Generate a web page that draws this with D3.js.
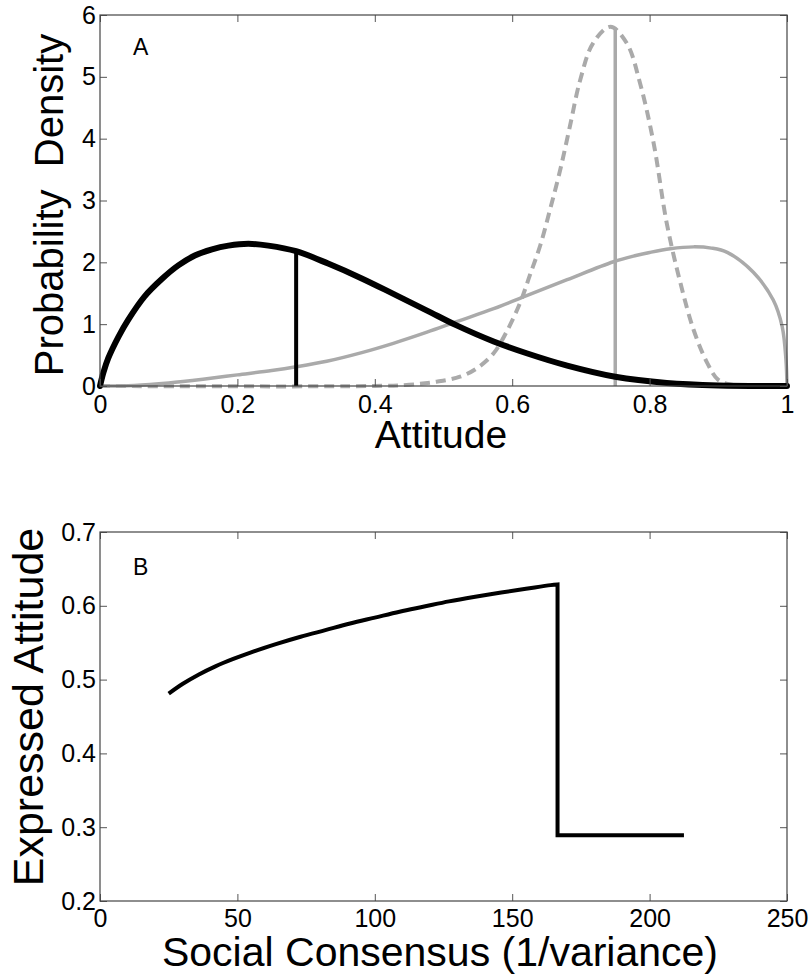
<!DOCTYPE html>
<html>
<head>
<meta charset="utf-8">
<script src="https://cdn.jsdelivr.net/npm/d3@7/dist/d3.min.js"></script>
<style>
  html, body { margin: 0; padding: 0; background: #fff; }
  svg { display: block; font-family: "Liberation Sans", Arial, Helvetica, sans-serif; }
</style>
</head>
<body>
<svg id="fig" width="811" height="978"></svg>
<script>
// ---- Panel A: probability densities over attitude ----
const privateAttitude = [0, 0.005, 0.012, 0.027, 0.041, 0.065, 0.09, 0.114, 0.138, 0.163, 0.187, 0.216, 0.245, 0.2855, 0.332, 0.381, 0.427, 0.476, 0.519, 0.573, 0.621, 0.68, 0.75, 0.825, 0.9, 1.0];
const privateDensity  = [0, 0.22, 0.45, 0.8, 1.07, 1.45, 1.73, 1.95, 2.11, 2.21, 2.27, 2.30, 2.27, 2.18, 1.98, 1.74, 1.49, 1.22, 0.98, 0.72, 0.53, 0.33, 0.15, 0.05, 0.01, 0];

const socialAttitude = [0, 0.05, 0.1, 0.15, 0.2, 0.25, 0.2855, 0.33, 0.381, 0.427, 0.476, 0.519, 0.573, 0.621, 0.68, 0.7475, 0.78, 0.80, 0.83, 0.864, 0.89, 0.913, 0.951, 0.98, 0.993, 0.9985, 1.0];
const socialDensity  = [0, 0.01, 0.05, 0.11, 0.18, 0.25, 0.31, 0.40, 0.54, 0.69, 0.87, 1.04, 1.25, 1.46, 1.72, 2.01, 2.11, 2.16, 2.22, 2.25, 2.23, 2.16, 1.84, 1.39, 0.96, 0.42, 0];

const consensusAttitude = [0, 0.40, 0.45, 0.49, 0.524, 0.549, 0.573, 0.592, 0.612, 0.626, 0.641, 0.655, 0.670, 0.684, 0.699, 0.718, 0.743, 0.767, 0.786, 0.806, 0.825, 0.845, 0.864, 0.884, 0.900, 0.92, 1.0];
const consensusDensity  = [0, 0, 0.02, 0.07, 0.15, 0.29, 0.53, 0.88, 1.36, 1.80, 2.28, 2.85, 3.50, 4.20, 4.95, 5.55, 5.81, 5.54, 4.90, 3.92, 2.63, 1.66, 0.91, 0.37, 0.10, 0.02, 0];

// expressed attitude markers: [attitude, height]
const privateMarker = [0.2855, 2.18];
const socialMarker  = [0.75, 5.79];

const attitudeTicks = [0, 0.2, 0.4, 0.6, 0.8, 1];
const attitudeTickLabels = ["0", "0.2", "0.4", "0.6", "0.8", "1"];
const densityTicks = [0, 1, 2, 3, 4, 5, 6];
const densityTickLabels = ["0", "1", "2", "3", "4", "5", "6"];

// ---- Panel B: expressed attitude vs social consensus ----
// conforming branch (below the switch point)
const consensusLevels = [25, 30, 36, 42, 48.5, 55, 64, 73, 82, 91, 100, 109, 118, 127, 136, 146, 155, 164, 166.5];
const expressedLevels = [0.481, 0.494, 0.507, 0.518, 0.528, 0.537, 0.548, 0.558, 0.567, 0.576, 0.584, 0.592, 0.599, 0.606, 0.612, 0.618, 0.623, 0.628, 0.629];
// private-attitude branch (after the switch)
const switchConsensus = [166.5, 166.5, 212.5];
const switchExpressed = [0.629, 0.289, 0.289];

const consensusTicks = [0, 50, 100, 150, 200, 250];
const consensusTickLabels = ["0", "50", "100", "150", "200", "250"];
const expressedTicks = [0.2, 0.3, 0.4, 0.5, 0.6, 0.7];
const expressedTickLabels = ["0.2", "0.3", "0.4", "0.5", "0.6", "0.7"];

const GRAY = "#aaaaaa";
const FONT = "'Liberation Sans', Arial, Helvetica, sans-serif";
const svg = d3.select("#fig");

function frame(g, x, y, xt, xl, yt, yl, xPad) {
  const [x0, x1] = x.range();
  const [y0, y1] = y.range();
  const tick = 7;
  const styleAxis = a => {
    a.select(".domain").remove();
    a.selectAll(".tick line").attr("stroke", "#555").attr("stroke-width", 1);
    a.selectAll(".tick text").attr("fill", "#000").style("font-size", "25px").style("font-family", FONT);
  };
  g.append("g").attr("transform", `translate(0,${y0})`)
    .call(d3.axisBottom(x).tickValues(xt).tickFormat((d, i) => xl[i]).tickSize(-tick).tickPadding(xPad))
    .call(styleAxis);
  g.append("g").attr("transform", `translate(0,${y1})`)
    .call(d3.axisTop(x).tickValues(xt).tickFormat("").tickSize(-tick))
    .call(styleAxis);
  g.append("g").attr("transform", `translate(${x0},0)`)
    .call(d3.axisLeft(y).tickValues(yt).tickFormat((d, i) => yl[i]).tickSize(-tick).tickPadding(4))
    .call(styleAxis);
  g.append("g").attr("transform", `translate(${x1},0)`)
    .call(d3.axisRight(y).tickValues(yt).tickFormat("").tickSize(-tick))
    .call(styleAxis);
  g.append("rect")
    .attr("x", x0).attr("y", y1).attr("width", x1 - x0).attr("height", y0 - y1)
    .attr("fill", "none").attr("stroke", "#444").attr("stroke-width", 1.2);
}

const zip = (xs, ys) => xs.map((v, i) => [v, ys[i]]);

// ---------- Panel A ----------
const xA = d3.scaleLinear().domain([0, 1]).range([100, 787]);
const yA = d3.scaleLinear().domain([0, 6]).range([386, 15]);
const gA = svg.append("g");

const lineA = d3.line().x(d => xA(d[0])).y(d => yA(d[1])).curve(d3.curveCatmullRom.alpha(0.5));

gA.append("path").datum(zip(consensusAttitude, consensusDensity))
  .attr("d", lineA).attr("fill", "none").attr("stroke", GRAY)
  .attr("stroke-width", 4).attr("stroke-dasharray", "10,6");
gA.append("path").datum(zip(socialAttitude, socialDensity))
  .attr("d", lineA).attr("fill", "none").attr("stroke", GRAY)
  .attr("stroke-width", 3.5).attr("stroke-linejoin", "round");
gA.append("line")
  .attr("x1", xA(socialMarker[0])).attr("x2", xA(socialMarker[0]))
  .attr("y1", yA(0)).attr("y2", yA(socialMarker[1]))
  .attr("stroke", GRAY).attr("stroke-width", 3.5);
gA.append("path").datum(zip(privateAttitude, privateDensity))
  .attr("d", lineA).attr("fill", "none").attr("stroke", "#000")
  .attr("stroke-width", 6).attr("stroke-linejoin", "round").attr("stroke-linecap", "round");
gA.append("line")
  .attr("x1", xA(privateMarker[0])).attr("x2", xA(privateMarker[0]))
  .attr("y1", yA(0)).attr("y2", yA(privateMarker[1]))
  .attr("stroke", "#000").attr("stroke-width", 4);

frame(gA, xA, yA, attitudeTicks, attitudeTickLabels, densityTicks, densityTickLabels, 9);

gA.append("text").attr("x", 133).attr("y", 55).style("font-size", "23px").text("A");
gA.append("text").attr("x", 441).attr("y", 448).attr("text-anchor", "middle")
  .style("font-size", "39px").text("Attitude");
gA.append("text").attr("transform", "translate(63,205) rotate(-90)")
  .attr("text-anchor", "middle").style("font-size", "40px").style("white-space", "pre")
  .text("Probability  Density");

// ---------- Panel B ----------
const xB = d3.scaleLinear().domain([0, 250]).range([100, 787]);
const yB = d3.scaleLinear().domain([0.2, 0.7]).range([901, 532]);
const gB = svg.append("g");

const smoothB = d3.line().x(d => xB(d[0])).y(d => yB(d[1])).curve(d3.curveCatmullRom.alpha(0.5));
const stepB = d3.line().x(d => xB(d[0])).y(d => yB(d[1]));
const pathB = smoothB(zip(consensusLevels, expressedLevels)) +
  stepB(zip(switchConsensus, switchExpressed).slice(1)).replace(/^M/, "L");

gB.append("path").attr("d", pathB)
  .attr("fill", "none").attr("stroke", "#000")
  .attr("stroke-width", 4).attr("stroke-linejoin", "miter");

frame(gB, xB, yB, consensusTicks, consensusTickLabels, expressedTicks, expressedTickLabels, 8);

gB.append("text").attr("x", 133).attr("y", 575).style("font-size", "23px").text("B");
gB.append("text").attr("x", 440).attr("y", 966).attr("text-anchor", "middle")
  .style("font-size", "41px").text("Social Consensus (1/variance)");
gB.append("text").attr("transform", "translate(43,707) rotate(-90)")
  .attr("text-anchor", "middle").style("font-size", "43px")
  .text("Expressed Attitude");
</script>
</body>
</html>
